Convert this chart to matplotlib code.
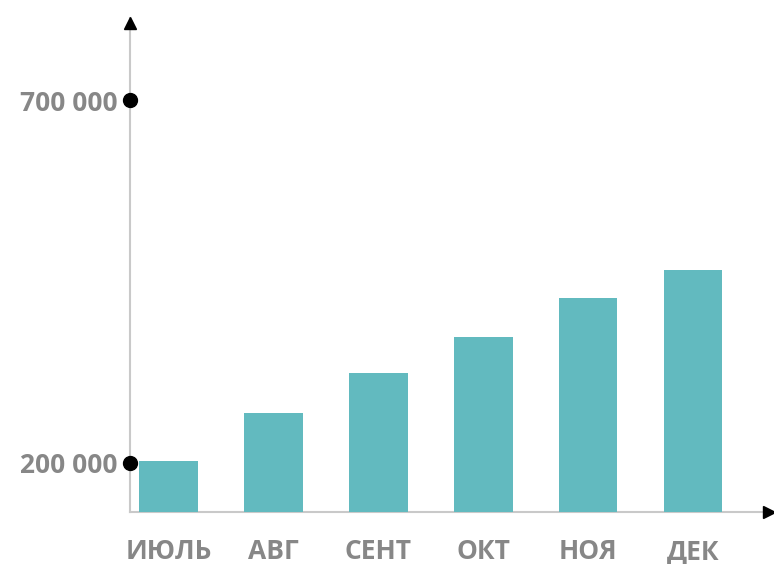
import matplotlib.pyplot as plt

# monthly values
months = ['ИЮЛЬ', 'АВГ', 'СЕНТ', 'ОКТ', 'НОЯ', 'ДЕК']
values = [203000, 269000, 324000, 374000, 427000, 466000]
marks = [200000, 700000]
mark_labels = ['200 000', '700 000']

bar_color = '#62babf'
text_color = '#878787'
axis_color = '#c9c9c9'

plt.rcParams['font.family'] = ['Open Sans', 'DejaVu Sans']

fig = plt.figure(figsize=(7.74, 5.64), dpi=100)
ax = fig.add_axes([130 / 774, 52 / 564, 642 / 774, 494 / 564])

x = list(range(len(months)))
ax.bar(x, values, width=0.56, color=bar_color, zorder=2)

ax.set_xlim(-0.367, 5.753)
ax.set_ylim(132500, 813000)

for side in ['top', 'right']:
    ax.spines[side].set_visible(False)
for side in ['left', 'bottom']:
    ax.spines[side].set_color(axis_color)
    ax.spines[side].set_linewidth(1.5)
    ax.spines[side].set_zorder(1)

# arrow heads
ax.plot([0], [0.99], marker='^', color='black', markersize=8,
        transform=ax.transAxes, clip_on=False, zorder=3)
ax.plot([0.995], [0], marker='>', color='black', markersize=8,
        transform=ax.transAxes, clip_on=False, zorder=3)

# dots on the value axis
ax.plot([-0.367] * len(marks), marks, 'o', color='black', markersize=10,
        clip_on=False, zorder=4)

ax.set_xticks(x)
ax.set_xticklabels(months)
ax.set_yticks(marks)
ax.set_yticklabels(mark_labels)
ax.tick_params(axis='x', length=0, pad=19, labelsize=19, labelcolor=text_color)
ax.tick_params(axis='y', length=0, pad=9, labelsize=19, labelcolor=text_color)
for lab in ax.get_xticklabels() + ax.get_yticklabels():
    lab.set_fontweight('bold')

fig.savefig('out.png', dpi=100)
